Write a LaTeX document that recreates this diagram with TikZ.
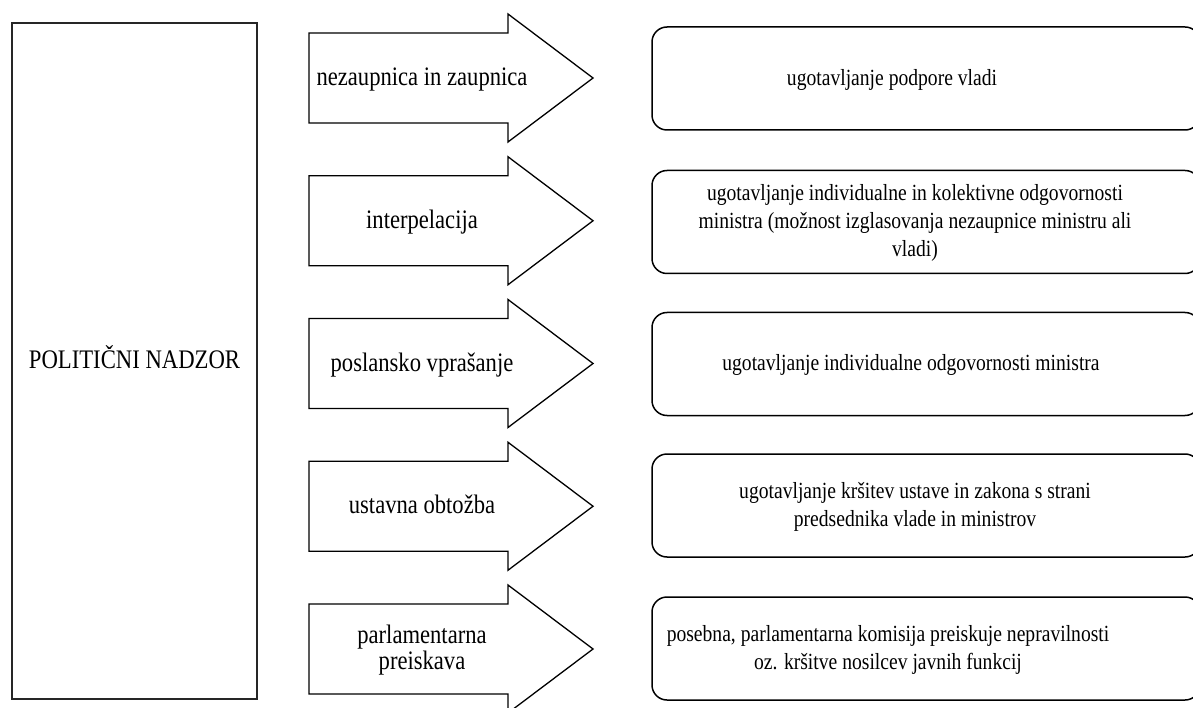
\documentclass[tikz,border=0pt]{standalone}
\usepackage{graphicx}
\usepackage{fontspec}
\setmainfont{Liberation Serif}
% text set slightly taller than wide
\newcommand{\tallset}[1]{\scalebox{1}[1.18]{\begin{tabular}{@{}c@{}}#1\end{tabular}}}
\begin{document}
\begin{tikzpicture}[x=1pt, y=-1pt,
  mainbox/.style={draw=black!85, line width=2pt, inner sep=0pt,
    minimum width=245pt, minimum height=676pt,
    font=\fontsize{22.7}{23}\selectfont},
  arrowshape/.style={draw=black, line width=1.3pt, fill=white, line join=miter},
  arrowtext/.style={inner sep=0pt, font=\fontsize{22.6}{21.2}\selectfont},
  resultbox/.style={draw=black, line width=1.5pt, rounded corners=15pt,
    minimum width=548pt, minimum height=103pt, inner sep=0pt},
  resulttext/.style={inner sep=0pt, font=\fontsize{19.6}{24}\selectfont}]
\useasboundingbox (0,0) rectangle (1193,708);
\clip (0,0) rectangle (1193,708);

% left column
\node[mainbox] (pn) at (134.5,361) {\tallset{POLITIČNI NADZOR}};

% block arrows with their labels
\foreach \c/\t [count=\i] in {
  78/{nezaupnica in zaupnica},
  220.75/{interpelacija},
  363.5/{poslansko vprašanje},
  506.25/{ustavna obtožba},
  649/{parlamentarna\\preiskava}} {
  \draw[arrowshape] (309,\c-45) -- (508,\c-45) -- (508,\c-64) -- (593,\c)
    -- (508,\c+64) -- (508,\c+45) -- (309,\c+45) -- cycle;
  \node[arrowtext] (arr\i) at (422,\c+2) {\tallset{\t}};
}

% rounded result boxes
\foreach \c/\tx/\t [count=\i] in {
  78.5/892/{ugotavljanje podpore vladi},
  222/915/{ugotavljanje individualne in kolektivne odgovornosti\\ministra (možnost izglasovanja nezaupnice ministru ali\\vladi)},
  364/911/{ugotavljanje individualne odgovornosti ministra},
  505.5/915/{ugotavljanje kršitev ustave in zakona s strani\\predsednika vlade in ministrov},
  648.5/888/{posebna, parlamentarna komisija preiskuje nepravilnosti\\oz. kršitve nosilcev javnih funkcij}} {
  \node[resultbox] (res\i) at (926,\c) {};
  \node[resulttext] (rtx\i) at (\tx,\c+1) {\tallset{\t}};
}
\end{tikzpicture}
\end{document}
